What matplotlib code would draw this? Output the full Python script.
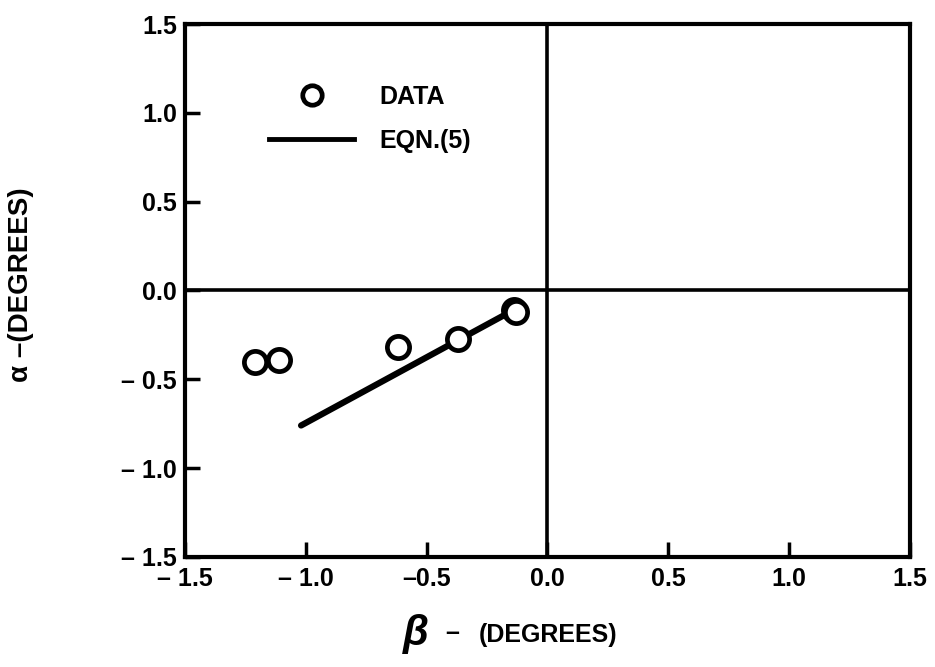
import matplotlib
matplotlib.use("Agg")
import matplotlib.pyplot as plt
from matplotlib.lines import Line2D

# Measured flow angles
beta_data = [-1.21, -1.11, -0.62, -0.37, -0.14, -0.13]
alpha_data = [-0.40, -0.39, -0.32, -0.275, -0.11, -0.12]

# Equation (5) prediction
beta_eqn = [-1.02, -0.14]
alpha_eqn = [-0.76, -0.11]

x_ticks = [-1.5, -1.0, -0.5, 0.0, 0.5, 1.0, 1.5]
x_tick_labels = ["\u2013 1.5", "\u2013 1.0", "\u20130.5", "0.0", "0.5", "1.0", "1.5"]
y_ticks = [-1.5, -1.0, -0.5, 0.0, 0.5, 1.0, 1.5]
y_tick_labels = ["\u2013 1.5", "\u2013 1.0", "\u2013 0.5", "0.0", "0.5", "1.0", "1.5"]

plt.rcParams["font.family"] = ["Liberation Sans", "DejaVu Sans"]
plt.rcParams["font.weight"] = "bold"

fig = plt.figure(figsize=(9.35, 6.67), dpi=100)
ax = fig.add_axes([0.198, 0.165, 0.775, 0.799])

ax.set_xlim(-1.5, 1.5)
ax.set_ylim(-1.5, 1.5)

# Reference axes through the origin
ax.axhline(0, color="black", lw=2.6, zorder=1)
ax.axvline(0, color="black", lw=2.6, zorder=1)

ax.plot(beta_eqn, alpha_eqn, color="black", lw=4.5, solid_capstyle="round", zorder=2)
ax.plot(beta_data, alpha_data, linestyle="none", marker="o", markersize=16,
        markerfacecolor="white", markeredgecolor="black", markeredgewidth=3.4, zorder=3)

for s in ax.spines.values():
    s.set_linewidth(3.0)

ax.set_xticks(x_ticks)
ax.set_xticklabels(x_tick_labels, fontsize=18, fontweight="bold")
ax.set_yticks(y_ticks)
ax.set_yticklabels(y_tick_labels, fontsize=18, fontweight="bold")
ax.tick_params(axis="both", direction="in", length=11, width=2.5)
ax.tick_params(axis="x", pad=7)
ax.tick_params(axis="y", pad=6)

# Axis titles
fig.text(0.445, 0.033, "\u03b2", fontsize=30, fontweight="bold", style="italic",
         ha="center", va="baseline")
fig.text(0.484, 0.040, "\u2013", fontsize=18, fontweight="bold", ha="center", va="baseline")
fig.text(0.586, 0.038, "(DEGREES)", fontsize=18, fontweight="bold", ha="center", va="baseline")
fig.text(0.022, 0.573, "\u03b1 \u2013(DEGREES)", fontsize=20, fontweight="bold",
         rotation=90, ha="center", va="center")

handles = [
    Line2D([], [], linestyle="none", marker="o", markersize=14, markerfacecolor="white",
           markeredgecolor="black", markeredgewidth=3.4, label="DATA"),
    Line2D([], [], color="black", lw=3.5, label="EQN.(5)"),
]
leg = ax.legend(handles=handles, loc="upper left", bbox_to_anchor=(0.085, 0.928),
                frameon=False, handlelength=3.4, handletextpad=1.0, labelspacing=0.8,
                prop={"size": 18, "weight": "bold"})

fig.savefig("out.png", dpi=100, facecolor="white")
